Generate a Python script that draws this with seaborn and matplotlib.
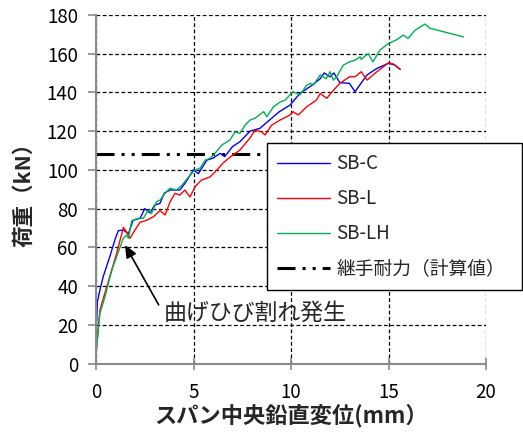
import numpy as np
import pandas as pd
import matplotlib
matplotlib.use("Agg")
import matplotlib.pyplot as plt
import seaborn as sns

# Load–deflection data (mid-span deflection in mm, load in kN)
disp_sbc = [0.0, 0.0, 0.07, 0.2, 0.37, 0.7, 0.97, 1.14, 1.4, 1.66, 1.9, 2.26, 2.5,
            2.77, 3.0, 3.28, 3.5, 3.8, 4.3, 4.56, 5.0, 5.25, 5.68, 6.0, 6.36, 6.6,
            7.0, 7.38, 7.9, 8.4, 8.9, 9.4, 9.95, 10.46, 10.97, 11.5, 11.7, 12.0,
            12.2, 12.5, 13.0, 13.28, 13.9, 14.4, 15.0, 15.33, 15.6]
load_sbc = [8, 13, 32, 38, 45, 55, 64, 68.6, 69, 67, 74, 75, 80,
            77.7, 81.8, 82.7, 88, 89.6, 89.6, 93, 100, 98, 105, 106, 108.5, 106.8,
            112, 114.5, 120, 121.4, 125.7, 130, 133.4, 139.5, 142.9, 147, 150, 148,
            150, 145, 144.6, 140.3, 149, 152.3, 155, 154, 151.8]

disp_sbl = [0.0, 0.2, 0.55, 1.06, 1.32, 1.4, 1.57, 1.74, 2.0, 2.26, 2.6, 2.94, 3.28,
            3.54, 3.8, 4.05, 4.3, 4.56, 4.82, 5.08, 5.4, 5.85, 6.2, 6.5, 6.9, 7.38,
            7.9, 8.15, 8.5, 8.67, 9.0, 9.44, 9.95, 10.1, 10.37, 10.8, 11.3, 11.5,
            11.83, 12.17, 12.5, 13.0, 13.28, 13.6, 13.9, 14.4, 15.0, 15.25, 15.6]
load_sbl = [5.5, 27.7, 39.7, 57, 67, 70.3, 68, 64.7, 69, 73, 74, 75.8, 79,
            76.7, 83.5, 87.9, 87, 89.6, 86, 91.3, 94.7, 96.4, 99.9, 103.4, 106.8, 110.2,
            116.5, 120.5, 119.6, 118, 123, 125.7, 128.3, 130, 128.3, 132.5, 136, 139.4,
            136.9, 141, 144.6, 148, 148, 150.6, 146.3, 150.6, 155.2, 154.6, 151.8]

disp_sblh = [0.0, 0.2, 0.46, 0.8, 1.23, 1.4, 1.57, 1.66, 1.83, 2.17, 2.43, 2.68, 2.85,
             3.1, 3.28, 3.54, 3.8, 4.13, 4.4, 4.82, 5.08, 5.33, 5.6, 5.85, 6.1, 6.45,
             6.87, 7.13, 7.38, 7.64, 7.9, 8.15, 8.6, 8.76, 9.1, 9.44, 9.7, 10.1, 10.46,
             10.8, 11.0, 11.14, 11.5, 11.8, 12.0, 12.17, 12.34, 12.68, 13.0, 13.28,
             13.54, 13.6, 13.96, 14.2, 14.56, 15.0, 15.4, 15.76, 16.0, 16.36, 16.87,
             17.13, 18.84]
load_sblh = [5, 26, 34.5, 48, 60, 64.7, 66.4, 64.7, 73.7, 75, 75, 79.3, 77.6,
             83.5, 84.4, 88, 90.5, 89.6, 92, 97.3, 99.9, 100.8, 105, 106, 108.5, 112.8,
             115.4, 119.6, 118.8, 123, 125.7, 126.6, 130, 127.4, 132.5, 135, 136, 140.3, 138.6,
             143.7, 144.6, 143.7, 149, 147, 150.6, 146.3, 148, 154, 155.7, 156.6,
             158.3, 157, 160, 155.7, 161.8, 165.2, 167, 169.5, 167.8, 172, 175.2,
             173, 168.6]

series_names = ["SB-C", "SB-L", "SB-LH"]
series_colors = ["#0000FF", "#FF0000", "#00B050"]

joint_capacity = 108.0
joint_label = "継手耐力（計算値）"
crack_label = "曲げひび割れ発生"
crack_point = (1.49, 61.2)

x_ticks = [0, 5, 10, 15, 20]
y_ticks = [0, 20, 40, 60, 80, 100, 120, 140, 160, 180]

frames = []
for name, d, p in zip(series_names,
                      [disp_sbc, disp_sbl, disp_sblh],
                      [load_sbc, load_sbl, load_sblh]):
    frames.append(pd.DataFrame({"disp": d, "load": p, "series": name,
                                "step": np.arange(len(d))}))
df = pd.concat(frames, ignore_index=True)

sns.set_theme(style="white")
plt.rcParams["font.family"] = ["Noto Sans CJK JP", "DejaVu Sans"]

fig = plt.figure(figsize=(5.23, 4.34), dpi=100)
ax = fig.add_axes([0.1836, 0.162, 0.7457, 0.804])

sns.lineplot(data=df, x="disp", y="load", hue="series", hue_order=series_names,
             palette=series_colors, sort=False, estimator=None, units="series",
             linewidth=1.0, ax=ax, legend=True)
handles, labels = ax.get_legend_handles_labels()
ax.get_legend().remove()

cap_line = ax.axhline(joint_capacity, color="black", linewidth=2.2,
                      linestyle=(0, (5.9, 2.3, 1, 2.3, 1, 2.3)),
                      dash_capstyle="butt", label=joint_label, zorder=1.5)
handles.append(cap_line)
labels.append(joint_label)

ax.set_xlim(0, 20)
ax.set_ylim(0, 180)
ax.set_xticks(x_ticks)
ax.set_yticks(y_ticks)
ax.set_axisbelow(True)
ax.grid(True, color="black", linestyle=(0, (3, 2)), linewidth=0.9)

for side in ["top", "right"]:
    ax.spines[side].set_visible(False)
for side in ["left", "bottom"]:
    ax.spines[side].set_color("#8a8a8a")
    ax.spines[side].set_linewidth(1.5)

ax.tick_params(axis="y", direction="out", length=6, width=1.2, color="#8a8a8a",
               labelsize=13.5, labelcolor="black", pad=7, left=True)
ax.tick_params(axis="x", direction="inout", length=8, width=1.2, color="#8a8a8a",
               labelsize=13.5, labelcolor="black", pad=9, bottom=True)

ax.set_xlabel("スパン中央鉛直変位(mm）", fontsize=16, fontweight="bold", labelpad=1)
ax.set_ylabel("荷重（kN）", fontsize=15.5, fontweight="bold", labelpad=9)

ax.annotate(crack_label, xy=crack_point, xytext=(3.45, 26.1),
            fontsize=16.5, ha="left", va="center",
            arrowprops=dict(arrowstyle="-|>,head_length=0.45,head_width=0.2",
                            color="black", lw=1.2, shrinkA=2, shrinkB=0,
                            relpos=(0, 0.5)))

leg = fig.legend(handles, labels, loc="upper left",
                 bbox_to_anchor=(0.5105, 0.6705, 0.4875, 0.0), mode="expand",
                 fontsize=13.5, frameon=True, fancybox=False, framealpha=1,
                 edgecolor="black", borderpad=0.55, labelspacing=0.75,
                 handlelength=2.8, handletextpad=0.35, borderaxespad=0)
leg.get_frame().set_linewidth(1.0)

fig.savefig("out.png", dpi=100)
